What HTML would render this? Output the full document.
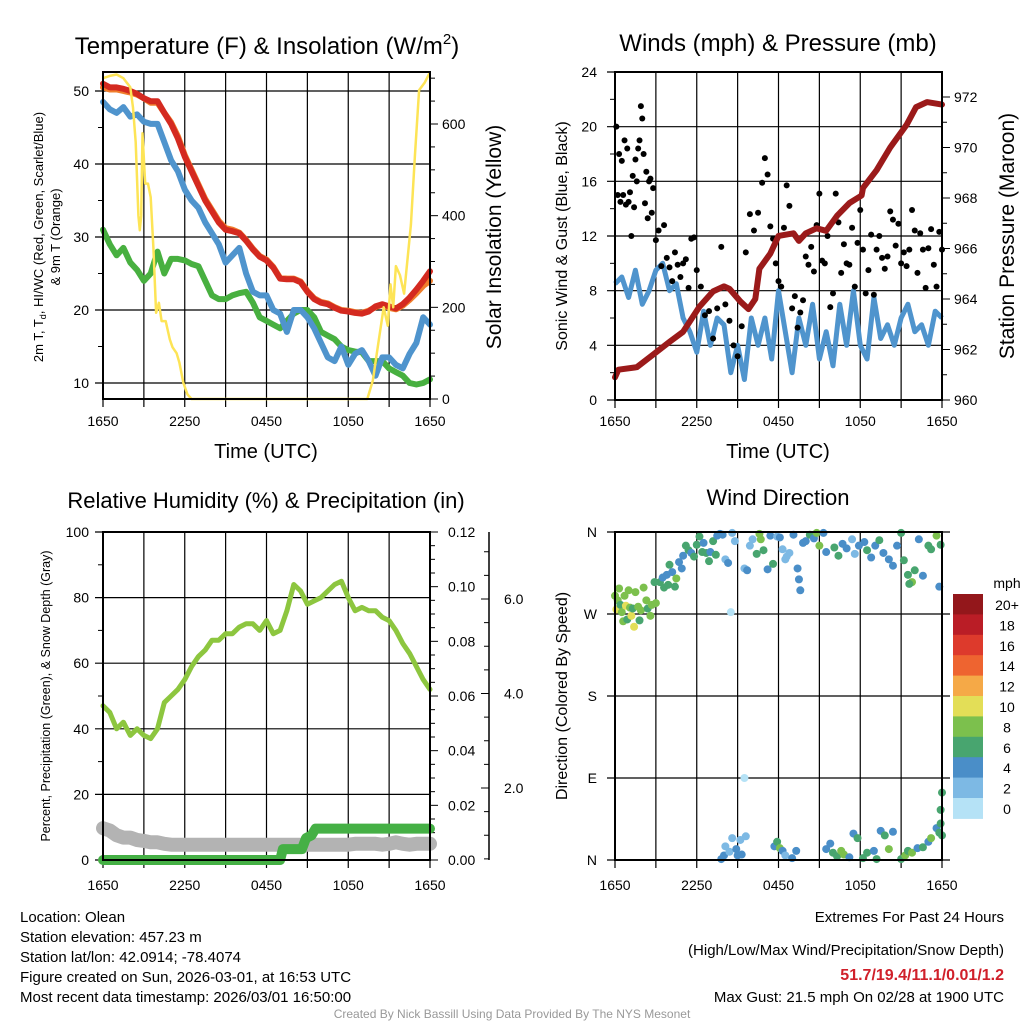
<!DOCTYPE html>
<html><head><meta charset="utf-8">
<style>
html,body{margin:0;padding:0;background:#fff;}
svg{display:block;font-family:"Liberation Sans",Arial,sans-serif;}
</style></head>
<body>
<svg id="chart" xmlns="http://www.w3.org/2000/svg" width="1024" height="1024" viewBox="0 0 1024 1024">
<rect x="0" y="0" width="1024" height="1024" fill="#fff"/>
<g id="p1"></g>
<g id="p2"></g>
<g id="p3"></g>
<g id="p4"></g>
<text x="267" y="54" font-size="24" text-anchor="middle">Temperature (F) &amp; Insolation (W/m<tspan font-size="15" dy="-10">2</tspan><tspan dy="10">)</tspan></text>
<text x="778" y="51" font-size="24" text-anchor="middle">Winds (mph) &amp; Pressure (mb)</text>
<text x="266" y="508" font-size="22" text-anchor="middle">Relative Humidity (%) &amp; Precipitation (in)</text>
<text x="778" y="505" font-size="22" text-anchor="middle">Wind Direction</text>
<g font-size="15">
<text x="20" y="922">Location: Olean</text>
<text x="20" y="942">Station elevation: 457.23 m</text>
<text x="20" y="962">Station lat/lon: 42.0914; -78.4074</text>
<text x="20" y="982">Figure created on Sun, 2026-03-01, at 16:53 UTC</text>
<text x="20" y="1002">Most recent data timestamp: 2026/03/01 16:50:00</text>
</g>
<g font-size="15" text-anchor="end">
<text x="1004" y="922">Extremes For Past 24 Hours</text>
<text x="1004" y="955">(High/Low/Max Wind/Precipitation/Snow Depth)</text>
<text x="1004" y="980" fill="#d0202a" font-weight="bold" font-size="16">51.7/19.4/11.1/0.01/1.2</text>
<text x="1004" y="1002">Max Gust: 21.5 mph On 02/28 at 1900 UTC</text>
</g>
<text x="512" y="1018" font-size="12" fill="#999" text-anchor="middle">Created By Nick Bassill Using Data Provided By The NYS Mesonet</text>
</svg>
<script>
// ---------- data ----------
const hours = [0,0.5,1,1.5,2,2.5,3,3.5,4,4.5,5,5.5,6,6.5,7,7.5,8,8.5,9,9.5,10,10.5,11,11.5,12,12.5,13,13.5,14,14.5,15,15.5,16,16.5,17,17.5,18,18.5,19,19.5,20,20.5,21,21.5,22,22.5,23,23.5,24];
const timeTicks = ["1650","2250","0450","1050","1650"];
const tempRed = [51,50.5,50.5,50.3,50,49.6,49,48.6,48.6,47,45.5,43.5,41,39,37,35,33.5,32,31,30.8,30.5,29.5,28.3,27.3,26.8,25.8,24.3,24.2,24.2,23.8,22.5,21.5,21,20.8,20.3,19.9,19.8,19.6,19.5,19.8,20.5,20.8,20.5,20.2,20.8,21.7,22.8,24,25.3];
const tempOrange = [50.5,50.2,50.2,50,49.8,49.5,49,48.4,48.4,47,45.7,43.8,41.2,39.2,37.2,35.2,33.7,32.2,31.2,31,30.6,29.6,28.4,27.4,26.9,25.9,24.4,24.3,24.3,23.9,22.6,21.6,21.1,20.9,20.4,20,19.9,19.7,19.6,19.9,20.4,20.7,20.3,20.1,20.6,21.4,22.3,23.3,24];
const dewBlue = [48.5,47.5,47,47.8,46.5,46.8,45.8,45.5,45.5,43,40.5,39,36.5,35,34,32,30.5,29,26.5,27.5,28.5,25,22.5,22,22,20,19.5,17,20,20,19,17.5,15.5,13.5,13,15,12.5,14,14.5,13,11,13.5,13.5,12.5,12,14,15.5,19,18];
const hiGreen = [31,29,27.5,28.5,26.5,25.5,24,25,28,25,27,27,26.8,26.3,26,24,22,21.5,21.5,22,22.3,22.5,21,19,18.5,18,17.5,18.5,19.5,20,20,19,17,16.5,16,15,14.5,14.3,14.2,13,13,13,12,11.5,11,10,9.8,10,10.5];
const solarHours = [0,0.5,1,1.5,2,2.2,2.4,2.6,2.7,2.8,2.9,3.1,3.3,3.5,3.7,3.9,4.1,4.3,4.6,4.9,5.1,5.4,5.6,5.9,6.2,6.5,19,19.4,19.8,20.2,20.6,20.9,21.1,21.3,21.5,21.8,22.1,22.4,22.6,22.9,23.2,23.6,24];
const solarWm2 = [700,705,708,700,680,636,560,400,368,400,580,470,470,440,330,188,210,170,170,130,113,100,80,35,10,0,0,0,40,120,200,160,250,200,290,270,230,320,380,534,674,690,713];
const tempTicks = [10,20,30,40,50];
const solarTicks = [0,200,400,600];

const windMph = [8.5,9,7.5,9.5,7,8,9.5,10,8,8.5,6,5,3.5,6.5,4,6,5.5,2,4,1.5,6,4,6,3,8,5,2,6,4,7,3,5,2.5,7,4,8,4,3,7.5,4.5,5.5,4,6,7,5,5.5,4,6.5,6];
const gustHour = [0.1,0.2,0.3,0.4,0.5,0.6,0.7,0.8,0.9,1.0,1.1,1.2,1.3,1.4,1.5,1.6,1.7,1.8,1.9,2.0,2.1,2.2,2.3,2.4,2.5,2.6,2.7,2.8,3.0,3.2,3.4,3.6,3.8,4.0,4.2,4.4,4.6,4.8,5.0,5.2,5.4,5.6,5.8,6.0,6.3,6.6,6.9,7.2,7.5,7.8,8.1,8.4,8.7,9.0,9.3,9.6,9.9,10.2,10.5,10.8,11.0,11.2,11.4,11.6,11.8,12.0,12.2,12.4,12.6,12.8,13.0,13.2,13.4,13.6,13.8,14.0,14.2,14.4,14.6,14.8,15.0,15.2,15.4,15.6,15.8,16.0,16.2,16.4,16.6,16.8,17.0,17.2,17.4,17.6,17.8,18.0,18.2,18.4,18.6,18.8,19.0,19.2,19.4,19.6,19.8,20.0,20.2,20.4,20.6,20.8,21.0,21.2,21.4,21.6,21.8,22.0,22.2,22.4,22.6,22.8,23.0,23.2,23.4,23.6,23.8,24.0];
const gustMph = [20,15,18,14.5,17.5,15,19,14.3,18.4,14.5,15.2,12,16.4,14.1,17.6,16,18.4,19,21.5,20.6,18,14.4,16.7,13.3,16,16.2,13.7,15.5,11.7,12.4,9.8,12.8,10.4,9.7,8.7,10.8,9.9,9,10,10.3,8.2,11.8,11.9,9.5,8.3,6.2,6.5,4.5,6.7,11.2,7,5.8,4,3.2,5.4,10.8,13.6,12.4,13.7,15.9,17.7,16.5,12.7,11.8,10,8.7,8.3,12.6,15.7,14.2,6.7,7.6,5.3,6.4,7.3,10.5,9.9,11.2,9.4,12.8,15.1,10.2,10,12,6.8,7.8,15.1,13,9.3,11.4,10,9.9,12.6,8.3,11.5,13.9,11,7.8,9.5,12.1,7.7,11,12,10.4,9.6,10.5,13.8,13.2,11.3,12.9,10,10.8,9.8,11,13.9,12.4,9.3,12.2,11,8.2,11.1,12.5,9.9,8.3,12.3,11];
const pressHour = [0,0.25,1.6,2.8,4,5,6.2,7.2,8,8.4,9.2,9.8,10.3,10.6,11.4,12,13.1,13.5,14,14.8,15.5,16.3,17.2,18.1,18.2,19.2,20.2,21.4,22.1,22.9,24];
const pressMb = [960.9,961.2,961.3,961.8,962.3,962.7,963.7,964.3,964.5,964.4,963.9,963.6,964.0,965.2,965.8,966.5,966.6,966.3,966.6,966.8,966.7,967.3,967.8,968.1,968.4,969.1,970.0,970.9,971.6,971.8,971.7];
const windTicks = [0,4,8,12,16,20,24];
const pressTicks = [960,962,964,966,968,970,972];

const rhPct = [47,45,40,42,38,40,38,37,40,48,50,52,55,59,62,64,67,67,69,69,71,72,72,70,73,69,70,76,84,82,78,79,80,82,84,85,80,76,77,76,76,74,73,70,66,63,59,55,52];
const precipHour = [0,13,13.2,14.6,14.9,15.3,15.6,24];
const precipIn = [0,0,0.004,0.004,0.008,0.009,0.0115,0.0115];
const snowIn = [1.15,1.1,1.0,0.95,0.95,0.9,0.88,0.85,0.85,0.82,0.8,0.8,0.8,0.8,0.8,0.8,0.8,0.8,0.8,0.8,0.8,0.8,0.8,0.8,0.8,0.8,0.8,0.8,0.8,0.8,0.8,0.8,0.8,0.8,0.8,0.8,0.8,0.82,0.82,0.82,0.82,0.8,0.82,0.85,0.82,0.8,0.82,0.82,0.82];
const rhTicks = [0,20,40,60,80,100];
const precipTicks = ["0.00","0.02","0.04","0.06","0.08","0.10","0.12"];
const snowTicks = ["2.0","4.0","6.0"];

const dirHour = [0.0,0.1,0.2,0.3,0.4,0.5,0.6,0.7,0.8,0.9,1.0,1.1,1.2,1.3,1.4,1.5,1.7,1.8,1.9,2.1,2.3,2.4,2.6,2.7,2.9,3.0,
3.3,3.5,3.6,3.8,3.9,4.0,4.2,4.4,4.5,4.7,4.9,5.0,5.2,5.4,5.6,5.8,
6.0,6.2,6.4,6.5,6.7,6.9,7.0,7.2,7.4,7.5,7.7,7.9,8.1,8.3,8.5,8.6,8.8,
7.8,8.0,8.1,8.4,8.6,8.9,9.0,9.2,9.3,9.5,9.6,
9.5,9.7,9.9,10.1,10.4,10.6,10.7,10.9,11.2,11.4,11.6,11.9,12.1,12.3,12.5,12.6,12.8,13.1,13.4,13.6,13.5,13.8,14.0,14.3,14.6,14.8,15.0,15.3,15.5,
11.7,11.9,12.1,12.3,12.5,13.0,13.3,
15.5,15.8,16.0,16.3,16.6,16.8,17.2,17.5,17.8,18.2,18.5,19.0,19.2,19.5,19.8,20.1,20.4,
16.1,16.4,16.7,17.0,17.4,17.6,17.9,18.3,18.5,18.8,19.1,19.4,19.7,20.1,20.4,20.7,21.0,21.2,21.5,21.8,21.6,22.0,22.3,22.6,23.0,23.2,23.6,23.8,23.9,
21.0,21.3,21.5,21.8,22.2,22.6,23.0,23.2,23.6,23.9,23.8,24.0,24.0,23.9];
const dirDeg = [290,275,285,298,280,272,262,290,279,264,296,277,268,276,256,294,278,263,274,299,285,276,268,280,305,282,
305,310,299,313,302,324,316,300,309,327,320,334,345,340,337,333,
346,355,338,348,337,328,338,350,335,356,358,357,330,326,272,359,350,
1,5,15,9,24,12,5,22,6,90,26,
320,318,345,352,336,358,352,340,319,356,325,355,354,341,330,333,337,357,320,296,308,348,350,357,353,359,345,359,338,
15,20,13,10,5,2,10,
12,18,8,4,10,6,3,29,24,2,8,10,1,32,27,12,31,
343,334,347,342,352,336,345,349,340,332,345,351,337,330,323,345,359,329,313,305,303,318,352,312,345,341,356,300,346,
1,5,10,8,13,14,20,24,35,40,30,27,74,55];
const dirSpeed = [8,10,8,8,6,8,8,8,10,6,8,8,10,6,10,8,8,6,8,8,8,6,8,8,6,8,
6,4,6,4,6,6,4,6,8,4,4,4,6,6,4,6,
6,6,6,4,6,6,4,6,6,4,4,4,2,4,0,2,2,
4,4,2,2,2,4,4,2,4,0,2,
2,4,2,2,6,8,8,6,4,4,6,2,4,2,2,2,2,4,4,4,4,4,4,6,4,8,8,4,4,
4,6,8,4,2,4,4,
4,4,6,6,8,8,4,4,6,6,6,4,6,4,6,8,4,
6,6,4,4,2,2,4,4,6,4,4,6,4,4,4,4,6,6,6,8,6,6,4,4,6,6,8,4,6,
6,8,6,8,4,6,4,8,4,6,6,6,6,6];
const speedBins = ["0","2","4","6","8","10","12","14","16","18","20+"];
const speedColors = ["#b5e2f6","#7db9e4","#4a8ec8","#48a56f","#7cc04d","#e3de57","#f5a947","#ee6430","#dd3a2c","#ba1d26","#93171b"];
const dirLabels = ["N","E","S","W","N"];

// ---------- helpers ----------
const NS = "http://www.w3.org/2000/svg";
function mk(parent, tag, attrs, txt){
  const e = document.createElementNS(NS, tag);
  for (const k in attrs) e.setAttribute(k, attrs[k]);
  if (txt !== undefined) e.textContent = txt;
  parent.appendChild(e);
  return e;
}
function lin(d0,d1,r0,r1){ return v => r0 + (v-d0)*(r1-r0)/(d1-d0); }
function pathFrom(xs, ys, fx, fy){
  let d = "";
  const n = Math.min(xs.length, ys.length);
  for (let i=0;i<n;i++) d += (i?"L":"M") + fx(xs[i]).toFixed(1) + "," + fy(ys[i]).toFixed(1);
  return d;
}
function frame(g, L, T, R, B, gridY, xTicksY){
  // vertical grid every 3h
  for (let h=0; h<=24; h+=3){
    const x = L + h*(R-L)/24;
    const ln = mk(g,"line",{x1:x,y1:T,x2:x,y2:B+8,stroke:"#000","stroke-width":1.2});
    
    
  }
  for (let i=0;i<timeTicks.length;i++){
    const t = mk(g,"text",{x:L+i*(R-L)/4,y:xTicksY,"font-size":14,"text-anchor":"middle"},timeTicks[i]);
    
    
  }
}
function box(g,L,T,R,B){
  const r = mk(g,"rect",{x:L,y:T,width:R-L,height:B-T,fill:"none",stroke:"#000","stroke-width":2});
  
  
}
function hgrid(g, y, L, R){
  const ln = mk(g,"line",{x1:L-8,y1:y,x2:R,y2:y,stroke:"#000","stroke-width":1.2});
  
  
}

// ---------- panel 1 ----------
(function(){
  const g = document.getElementById("p1");
  const L=103,R=430,T=72,B=399;
  const fx = lin(0,24,L,R), fy = lin(10,50,383,91), fs = lin(0,600,399,124);
  frame(g,L,T,R,B,null,426);
  tempTicks.forEach(v=>{ hgrid(g,fy(v),L,R);
    const t = mk(g,"text",{x:L-14,y:fy(v)+5,"font-size":14,"text-anchor":"end"},v);
      });
  [15,25,35,45].forEach(v=>mk(g,"line",{x1:L-5,y1:fy(v),x2:L,y2:fy(v),stroke:"#000"}));
  for (let v=0; v<=700; v+=50){ mk(g,"line",{x1:R,y1:fs(v),x2:R+(v%200===0?8:5),y2:fs(v),stroke:"#000"}); }
  solarTicks.forEach(v=>{ const t = mk(g,"text",{x:R+12,y:fs(v)+5,"font-size":14},v);
      });
  const series = [[hiGreen,"#48b040","green-series"],[dewBlue,"#4f94cd","blue-series"],[tempOrange,"#f07e2c","orange-series"],[tempRed,"#d42a20","red-series"]];
  series.forEach(s=>{ const p = mk(g,"path",{d:pathFrom(hours,s[0],fx,fy),fill:"none",stroke:s[1],"stroke-width":6,"stroke-linejoin":"round","stroke-linecap":"round"});
      });
  const y = mk(g,"path",{d:pathFrom(solarHours,solarWm2,fx,fs),fill:"none",stroke:"#fde456","stroke-width":2.5,"stroke-linejoin":"round"});
   
  box(g,L,T,R,B);
  const xt = mk(g,"text",{x:266,y:458,"font-size":20,"text-anchor":"middle"},"Time (UTC)");
   
  const yl = mk(g,"text",{transform:"translate(43,237) rotate(-90)","font-size":13,"text-anchor":"middle"});
   
  yl.innerHTML = '2m T, T<tspan font-size="9" dy="3">d</tspan><tspan dy="-3">, HI/WC (Red, Green, Scarlet/Blue)</tspan>';
  const yl2 = mk(g,"text",{transform:"translate(60,237) rotate(-90)","font-size":13,"text-anchor":"middle"},"& 9m T (Orange)");
   
  const yr = mk(g,"text",{transform:"translate(501,237) rotate(-90)","font-size":21,"text-anchor":"middle"},"Solar Insolation (Yellow)");
   
})();

// ---------- panel 2 ----------
(function(){
  const g = document.getElementById("p2");
  const L=615,R=942,T=72,B=400;
  const fx = lin(0,24,L,R), fy = lin(0,24,B,T), fp = lin(960,972,400,97);
  frame(g,L,T,R,B,null,426);
  windTicks.forEach(v=>{ hgrid(g,fy(v),L,R);
    const t = mk(g,"text",{x:L-18,y:fy(v)+5,"font-size":14,"text-anchor":"end"},v);
      });
  [2,6,10,14,18,22].forEach(v=>mk(g,"line",{x1:L-5,y1:fy(v),x2:L,y2:fy(v),stroke:"#000"}));
  for (let v=960; v<=972.9; v+=1){ mk(g,"line",{x1:R,y1:fp(v),x2:R+(v%2===0?8:5),y2:fp(v),stroke:"#000"}); }
  pressTicks.forEach(v=>{ const t = mk(g,"text",{x:R+12,y:fp(v)+5,"font-size":14},v);
      });
  const wl = mk(g,"path",{d:pathFrom(hours,windMph,fx,fy),fill:"none",stroke:"#4f94cd","stroke-width":5,"stroke-linejoin":"round"});
   
  const n = Math.min(gustHour.length,gustMph.length);
  for (let i=0;i<n;i++){
    const c = mk(g,"circle",{cx:fx(gustHour[i]),cy:fy(gustMph[i]),r:3,fill:"#000"});
    
    
  }
  const pl = mk(g,"path",{d:pathFrom(pressHour,pressMb,fx,fp),fill:"none",stroke:"#9b1a1a","stroke-width":6,"stroke-linejoin":"round","stroke-linecap":"round"});
   
  box(g,L,T,R,B);
  const xt = mk(g,"text",{x:778,y:458,"font-size":20,"text-anchor":"middle"},"Time (UTC)");
   
  const yl = mk(g,"text",{transform:"translate(567,236) rotate(-90)","font-size":16,"text-anchor":"middle"},"Sonic Wind & Gust (Blue, Black)");
   
  const yr = mk(g,"text",{transform:"translate(1014,236) rotate(-90)","font-size":21,"text-anchor":"middle"},"Station Pressure (Maroon)");
   
})();

// ---------- panel 3 ----------
(function(){
  const g = document.getElementById("p3");
  const L=103,R=430,T=532,B=860;
  const fx = lin(0,24,L,R), fy = lin(0,100,B,T), fq = lin(0,0.12,B,T), fsn = lin(2,6,788,599);
  frame(g,L,T,R,B,null,890);
  rhTicks.forEach(v=>{ hgrid(g,fy(v),L,R);
    const t = mk(g,"text",{x:L-14,y:fy(v)+5,"font-size":14,"text-anchor":"end"},v);
      });
  [10,30,50,70,90].forEach(v=>mk(g,"line",{x1:L-5,y1:fy(v),x2:L,y2:fy(v),stroke:"#000"}));
  for (let i=0;i<=24;i++){ const v=i*0.005; mk(g,"line",{x1:R,y1:fq(v),x2:R+(i%4===0?8:5),y2:fq(v),stroke:"#000"}); }
  precipTicks.forEach(s=>{ const t = mk(g,"text",{x:R+18,y:fq(parseFloat(s))+5,"font-size":14},s);
      });
  const ax = 489;
  mk(g,"line",{x1:ax,y1:T,x2:ax,y2:B,stroke:"#000","stroke-width":1.5});
  for (let v=0.5; v<=7; v+=0.5){ const y=fsn(v); if (y>=T && y<=B) mk(g,"line",{x1:ax-(v%2===0?8:5),y1:y,x2:ax,y2:y,stroke:"#000"}); }
  snowTicks.forEach(s=>{ const t = mk(g,"text",{x:ax+15,y:fsn(parseFloat(s))+5,"font-size":14},s);
      });
  const sn = mk(g,"path",{d:pathFrom(hours,snowIn,fx,fsn),fill:"none",stroke:"#b3b3b3","stroke-width":14,"stroke-linejoin":"round","stroke-linecap":"round"});
   
  const pr = mk(g,"path",{d:pathFrom(precipHour,precipIn,fx,fq),fill:"none",stroke:"#45b045","stroke-width":10,"stroke-linejoin":"round","stroke-linecap":"round"});
   
  const rh = mk(g,"path",{d:pathFrom(hours,rhPct,fx,fy),fill:"none",stroke:"#8dc63f","stroke-width":5,"stroke-linejoin":"round","stroke-linecap":"round"});
   
  box(g,L,T,R,B);
  const yl = mk(g,"text",{transform:"translate(50,696) rotate(-90)","font-size":12.5,"text-anchor":"middle"},"Percent, Precipitation (Green), & Snow Depth (Gray)");
   
})();

// ---------- panel 4 ----------
(function(){
  const g = document.getElementById("p4");
  const L=615,R=942,T=532,B=860;
  const fx = lin(0,24,L,R), fy = lin(0,360,B,T);
  frame(g,L,T,R,B,null,890);
  dirLabels.forEach((s,i)=>{ const v=i*90; hgrid(g,fy(v),L,R+8);
    const t = mk(g,"text",{x:L-18,y:fy(v)+5,"font-size":14,"text-anchor":"end"},s);
      });
  const n = Math.min(dirHour.length,dirDeg.length,dirSpeed.length);
  for (let i=0;i<n;i++){
    const bin = Math.min(10, Math.floor(dirSpeed[i]/2));
    const c = mk(g,"circle",{cx:fx(dirHour[i]),cy:fy(dirDeg[i]),r:4,fill:speedColors[bin]});
    
    
  }
  box(g,L,T,R,B);
  const yl = mk(g,"text",{transform:"translate(567,696) rotate(-90)","font-size":16,"text-anchor":"middle"},"Direction (Colored By Speed)");
   
  // colorbar
  const cb = mk(g,"g",{});
  
  
  const cT=594, cH=20.4;
  for (let i=0;i<speedBins.length;i++){
    const k = speedBins.length-1-i;
    mk(cb,"rect",{x:953,y:cT+i*cH,width:30,height:cH+0.5,fill:speedColors[k]});
    const t = mk(cb,"text",{x:1007,y:cT+i*cH+16,"font-size":14,"text-anchor":"middle"},speedBins[k]);
     
  }
  const u = mk(cb,"text",{x:1007,y:588,"font-size":14,"text-anchor":"middle"},"mph");
   
})();
</script>
</body></html>
